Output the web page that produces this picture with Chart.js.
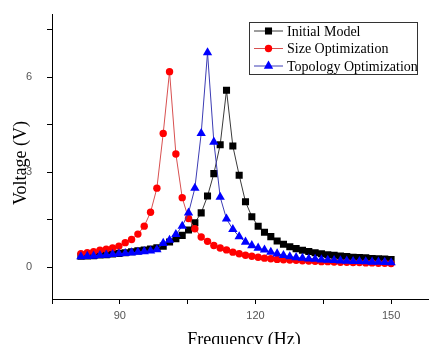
<!DOCTYPE html>
<html>
<head>
<meta charset="utf-8">
<title>Voltage vs Frequency</title>
<script src="https://cdn.jsdelivr.net/npm/chart.js@4/dist/chart.umd.min.js"></script>
<style>
  html, body { margin: 0; padding: 0; background: #fff; }
  #wrap { width: 434px; height: 344px; }
</style>
</head>
<body>
<div id="wrap"><canvas id="chart" width="434" height="344"></canvas></div>
<script>
// frequency samples (Hz)
var freq = [81.4, 82.8, 84.2, 85.6, 87.0, 88.4, 89.8, 91.2, 92.6, 94.0,
  95.4, 96.8, 98.2, 99.6, 101.0, 102.4, 103.8, 105.2, 106.6, 108.0,
  109.4, 110.8, 112.2, 113.6, 115.0, 116.4, 117.8, 119.2, 120.6, 122.0,
  123.4, 124.8, 126.2, 127.6, 129.0, 130.4, 131.8, 133.2, 134.6, 136.0,
  137.4, 138.8, 140.2, 141.6, 143.0, 144.4, 145.8, 147.2, 148.6, 150.0];

var initialModel = [0.35, 0.36, 0.37, 0.39, 0.40, 0.42, 0.44, 0.46, 0.49, 0.52,
  0.55, 0.58, 0.62, 0.67, 0.80, 0.90, 1.01, 1.18, 1.41, 1.72,
  2.25, 2.96, 3.87, 5.59, 3.83, 2.91, 2.07, 1.60, 1.30, 1.11,
  0.97, 0.83, 0.73, 0.65, 0.59, 0.54, 0.50, 0.46, 0.43, 0.40,
  0.38, 0.36, 0.34, 0.32, 0.31, 0.30, 0.28, 0.27, 0.26, 0.25];

var sizeOpt = [0.43, 0.46, 0.49, 0.54, 0.57, 0.61, 0.67, 0.78, 0.88, 1.05,
  1.30, 1.74, 2.50, 4.23, 6.18, 3.58, 2.20, 1.54, 1.22, 0.96,
  0.82, 0.69, 0.61, 0.55, 0.48, 0.43, 0.38, 0.35, 0.32, 0.29,
  0.27, 0.25, 0.24, 0.23, 0.22, 0.21, 0.20, 0.19, 0.18, 0.18,
  0.17, 0.16, 0.16, 0.15, 0.15, 0.14, 0.14, 0.13, 0.13, 0.12];

var topologyOpt = [0.34, 0.35, 0.36, 0.38, 0.39, 0.41, 0.43, 0.44, 0.46, 0.48,
  0.50, 0.52, 0.56, 0.76, 0.86, 1.04, 1.30, 1.72, 2.50, 4.23,
  6.78, 3.96, 2.22, 1.53, 1.20, 0.97, 0.80, 0.69, 0.61, 0.55,
  0.48, 0.43, 0.38, 0.34, 0.31, 0.29, 0.27, 0.26, 0.24, 0.23,
  0.22, 0.21, 0.20, 0.19, 0.19, 0.18, 0.17, 0.17, 0.16, 0.15];

var seriesNames = ['Initial Model', 'Size Optimization', 'Topology Optimization'];

// major ticks get labels, minor ticks don't
var xTicks = [75, 90, 105, 120, 135, 150];
var xLabels = [90, 120, 150];
var yTicks = [0, 1.5, 3, 4.5, 6, 7.5];
var yLabels = [0, 3, 6];

function toPoints(ys) {
  return freq.map(function (f, i) { return { x: f, y: ys[i] }; });
}

var serif = '"Liberation Serif", "Times New Roman", serif';

// boxed legend in the upper right + axis titles
var decorPlugin = {
  id: 'decor',
  afterDraw: function (chart) {
    var ctx = chart.ctx;
    ctx.save();

    // legend frame
    ctx.strokeStyle = '#333';
    ctx.lineWidth = 1;
    ctx.strokeRect(249.5, 22.5, 168, 52);

    var rows = [31, 48.5, 66];
    chart.data.datasets.forEach(function (ds, i) {
      var y = rows[i];
      ctx.strokeStyle = ds.borderColor;
      ctx.lineWidth = 1;
      ctx.beginPath();
      ctx.moveTo(254, y);
      ctx.lineTo(283, y);
      ctx.stroke();
      ctx.fillStyle = ds.pointBackgroundColor;
      ctx.strokeStyle = ds.pointBorderColor;
      Chart.helpers.drawPoint(ctx, {
        pointStyle: ds.pointStyle,
        radius: ds.pointRadius,
        rotation: 0,
        borderWidth: ds.pointBorderWidth
      }, 268.5, y);
      ctx.fillStyle = '#000';
      ctx.font = '14px ' + serif;
      ctx.textAlign = 'left';
      ctx.textBaseline = 'middle';
      ctx.fillText(ds.label, 287, y + 1);
    });

    // axis titles
    ctx.fillStyle = '#000';
    ctx.font = '18px ' + serif;
    ctx.textAlign = 'center';
    ctx.textBaseline = 'alphabetic';
    ctx.fillText('Frequency (Hz)', 244, 345);

    ctx.translate(26, 163);
    ctx.rotate(-Math.PI / 2);
    ctx.fillText('Voltage (V)', 0, 0);
    ctx.restore();
  }
};

var ctx = document.getElementById('chart').getContext('2d');
new Chart(ctx, {
  type: 'line',
  data: {
    datasets: [{
      label: seriesNames[0],
      data: toPoints(initialModel),
      borderColor: '#3a3a3a',
      borderWidth: 1,
      pointStyle: 'rect',
      pointRadius: 5,
      pointBackgroundColor: '#000',
      pointBorderColor: '#000',
      pointBorderWidth: 0,
      order: 3
    }, {
      label: seriesNames[1],
      data: toPoints(sizeOpt),
      borderColor: '#d85050',
      borderWidth: 1,
      pointStyle: 'circle',
      pointRadius: 3.7,
      pointBackgroundColor: '#ff0000',
      pointBorderColor: '#ff0000',
      pointBorderWidth: 0,
      order: 2
    }, {
      label: seriesNames[2],
      data: toPoints(topologyOpt),
      borderColor: '#3c3cb4',
      borderWidth: 1,
      pointStyle: 'triangle',
      pointRadius: 5.4,
      pointBackgroundColor: '#0000ff',
      pointBorderColor: '#0000ff',
      pointBorderWidth: 0,
      order: 1
    }]
  },
  options: {
    responsive: false,
    animation: false,
    events: [],
    layout: { padding: { left: 0, right: 1, top: 14, bottom: 0 } },
    elements: { line: { tension: 0 } },
    plugins: {
      legend: { display: false },
      tooltip: { enabled: false }
    },
    scales: {
      x: {
        type: 'linear',
        min: 75,
        max: 158.3,
        afterFit: function (s) { s.height = 45; },
        afterBuildTicks: function (s) {
          s.ticks = xTicks.map(function (v) { return { value: v }; });
        },
        border: { color: '#000', width: 1 },
        grid: { drawOnChartArea: false, drawTicks: true, tickLength: 5, color: '#000' },
        ticks: {
          padding: 5,
          color: '#555',
          font: { family: '"Liberation Sans", Arial, sans-serif', size: 11 },
          maxRotation: 0,
          autoSkip: false,
          callback: function (v) { return xLabels.indexOf(v) >= 0 ? String(v) : ''; }
        }
      },
      y: {
        type: 'linear',
        min: -1,
        max: 8,
        afterFit: function (s) {
          s.width = 52;
          // tick padding would otherwise push the plot top down
          s.paddingTop = 0;
          s.paddingBottom = 0;
        },
        afterBuildTicks: function (s) {
          s.ticks = yTicks.map(function (v) { return { value: v }; });
        },
        border: { color: '#000', width: 1 },
        grid: { drawOnChartArea: false, drawTicks: true, tickLength: 5, color: '#000' },
        ticks: {
          padding: 15,
          color: '#555',
          font: { family: '"Liberation Sans", Arial, sans-serif', size: 11 },
          autoSkip: false,
          callback: function (v) { return yLabels.indexOf(v) >= 0 ? String(v) : ''; }
        }
      }
    }
  },
  plugins: [decorPlugin]
});
</script>
</body>
</html>
